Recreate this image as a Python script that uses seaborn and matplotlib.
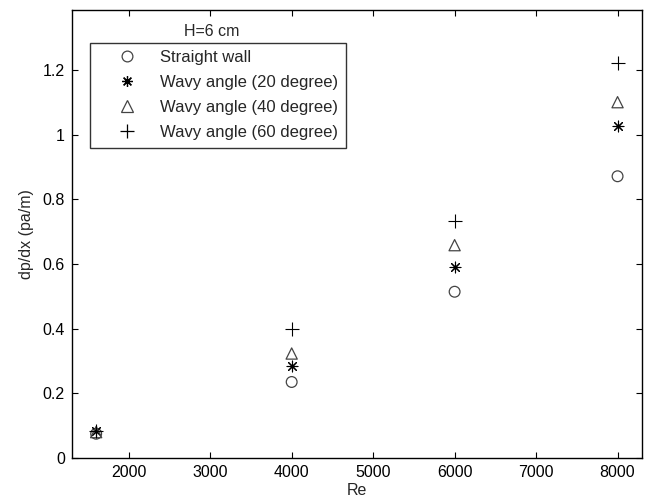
import matplotlib
matplotlib.use("Agg")
import matplotlib.pyplot as plt
import pandas as pd
import seaborn as sns
from matplotlib.lines import Line2D

# values
re_vals = [1600, 4000, 6000, 8000]
straight = [0.075, 0.235, 0.514, 0.871]
wavy20 = [0.082, 0.284, 0.590, 1.027]
wavy40 = [0.080, 0.323, 0.658, 1.100]
wavy60 = [0.084, 0.398, 0.733, 1.222]
labels = ["Straight wall", "Wavy angle (20 degree)",
          "Wavy angle (40 degree)", "Wavy angle (60 degree)"]
xticks = [2000, 3000, 4000, 5000, 6000, 7000, 8000]
yticks = [0, 0.2, 0.4, 0.6, 0.8, 1, 1.2]

sns.set_style("ticks")
plt.rcParams["font.family"] = ["Liberation Sans", "DejaVu Sans"]

rows = []
for lab, vals in zip(labels, [straight, wavy20, wavy40, wavy60]):
    for r, v in zip(re_vals, vals):
        rows.append({"Re": r, "dpdx": v, "case": lab})
df = pd.DataFrame(rows)

markers = {labels[0]: "o", labels[1]: (8, 2, 0), labels[2]: "^", labels[3]: "+"}
sizes = {labels[0]: 60, labels[1]: 60, labels[2]: 65, labels[3]: 110}
ecol = {labels[0]: "#444444", labels[1]: "black", labels[2]: "#444444", labels[3]: "black"}
filled = {labels[0]: True, labels[1]: False, labels[2]: True, labels[3]: False}

fig = plt.figure(figsize=(6.46, 5.01), dpi=100)
ax = fig.add_axes([71.7 / 646, 1 - 458 / 501, (642 - 71.7) / 646, (458 - 10) / 501])

handles = []
for lab in labels:
    sub = df[df["case"] == lab]
    if filled[lab]:
        sns.scatterplot(data=sub, x="Re", y="dpdx", marker=markers[lab], s=sizes[lab],
                        facecolors="none", edgecolors=ecol[lab], linewidths=0.9,
                        legend=False, ax=ax)
    else:
        sns.scatterplot(data=sub, x="Re", y="dpdx", marker=markers[lab], s=sizes[lab],
                        color=ecol[lab], linewidth=0.8, legend=False, ax=ax)
    handles.append(Line2D([], [], ls="none", marker=markers[lab],
                          markersize=sizes[lab] ** 0.5, markerfacecolor="none",
                          markeredgecolor=ecol[lab], markeredgewidth=0.9, label=lab))

ax.set_xlim(1300, 8300)
ax.set_ylim(0, 1.385)
ax.set_xticks(xticks)
ax.set_xticklabels([str(t) for t in xticks])
ax.set_yticks(yticks)
ax.set_yticklabels([f"{t:g}" for t in yticks])
ax.tick_params(direction="in", length=4, width=0.8, top=True, right=True,
               labelsize=11.5, colors="black", pad=5)
for sp in ax.spines.values():
    sp.set_linewidth(1.0)
    sp.set_color("black")
ax.set_xlabel("Re", fontsize=11.5, labelpad=2)
ax.set_ylabel("dp/dx (pa/m)", fontsize=11.5, labelpad=6)

leg = ax.legend(handles=handles, loc="upper left",
                bbox_to_anchor=(90 / 646, 1 - 42.7 / 501),
                bbox_transform=fig.transFigure, borderaxespad=0,
                fontsize=12, frameon=True, fancybox=False, edgecolor="black",
                labelspacing=0.6, handlelength=3.5, handletextpad=0.25,
                borderpad=0.45)
leg.get_frame().set_linewidth(1.0)
fig.text(212 / 646, 1 - 32 / 501, "H=6 cm", ha="center", va="center", fontsize=11.5)

fig.savefig("out.png", dpi=100)
